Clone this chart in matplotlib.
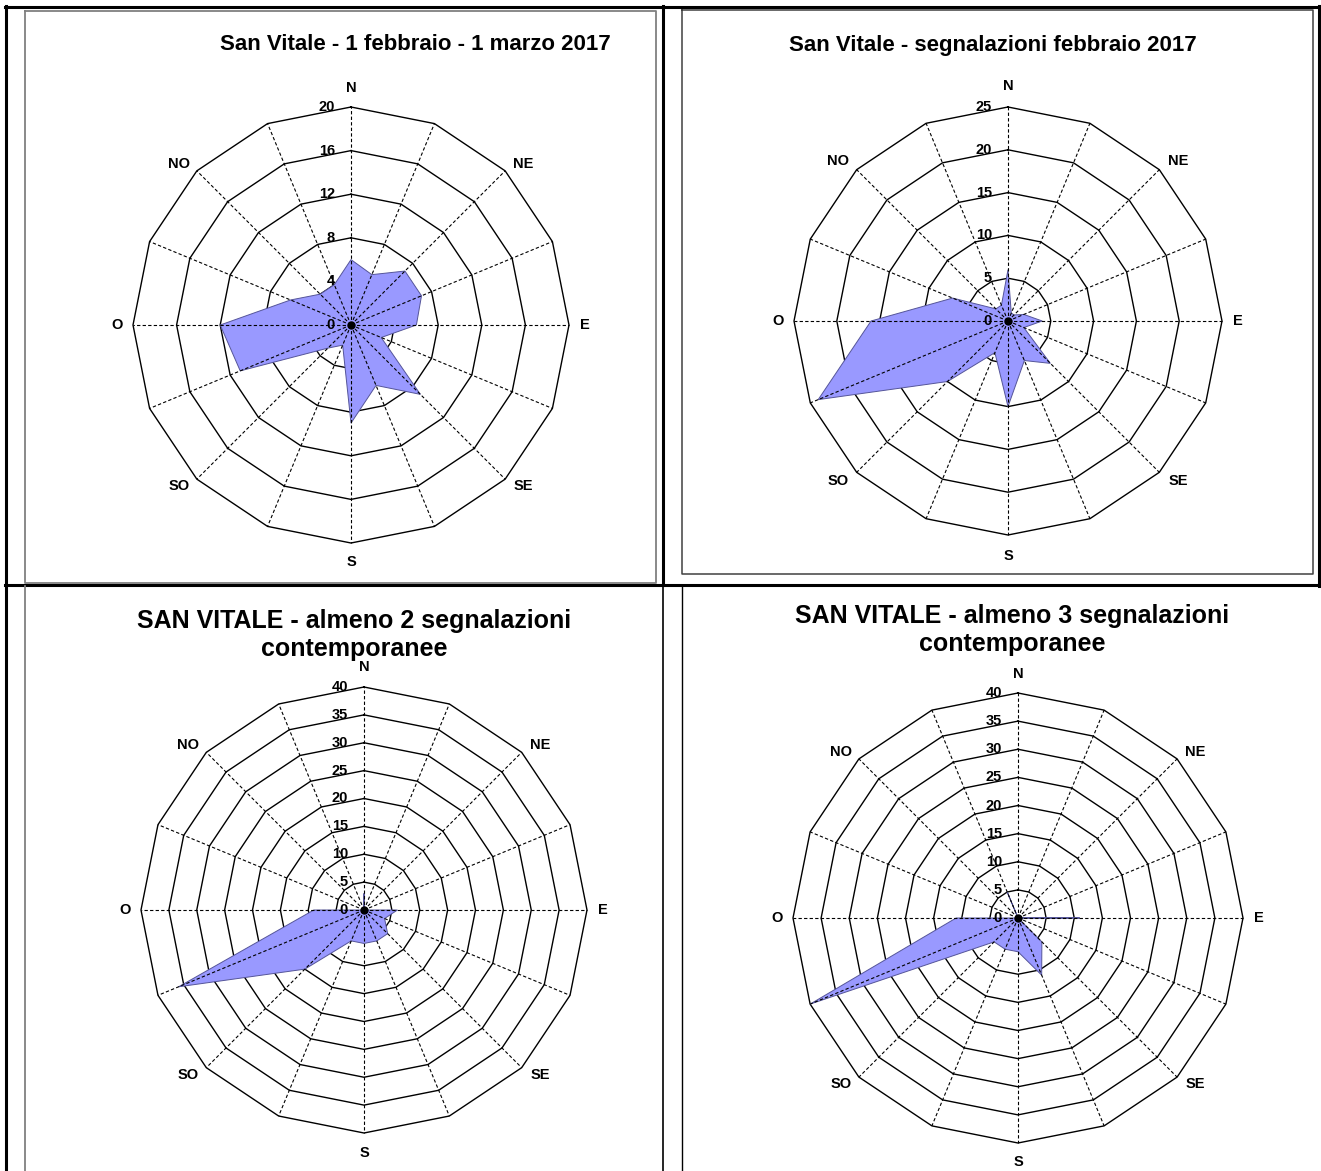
import numpy as np
import matplotlib
matplotlib.use("Agg")
import matplotlib.pyplot as plt

plt.rcParams['font.family'] = ['Liberation Sans', 'DejaVu Sans']

W, H = 1321, 1171

# 16 wind directions (clockwise from North)
directions = ['N', 'NNE', 'NE', 'ENE', 'E', 'ESE', 'SE', 'SSE',
              'S', 'SSO', 'SO', 'OSO', 'O', 'ONO', 'NO', 'NNO']
shown_labels = ['N', 'NE', 'E', 'SE', 'S', 'SO', 'O', 'NO']

# Chart values (counts per direction)
feb_mar_2017 = [6, 5, 7, 7, 6, 3, 9, 6, 9, 2, 3, 11, 12, 6, 4, 4]
segn_feb_2017 = [6, 1, 1, 2, 4, 2, 7, 5, 10, 4, 10, 24, 16, 7, 2, 2]
almeno_2 = [3, 0, 0, 0, 6, 4, 6, 6, 6, 6, 15, 36, 9, 0, 0, 0]
almeno_3 = [0, 0, 0, 0, 11, 0, 6, 11, 6, 6, 6, 40, 11, 0, 0, 5]

ticks_1 = [0, 4, 8, 12, 16, 20]
ticks_2 = [0, 5, 10, 15, 20, 25]
ticks_3 = [0, 5, 10, 15, 20, 25, 30, 35, 40]
ticks_4 = [0, 5, 10, 15, 20, 25, 30, 35, 40]

titles = ['San Vitale - 1 febbraio - 1 marzo 2017',
          'San Vitale - segnalazioni febbraio 2017',
          'SAN VITALE - almeno 2 segnalazioni\ncontemporanee',
          'SAN VITALE - almeno 3 segnalazioni\ncontemporanee']

fig = plt.figure(figsize=(W / 100, H / 100), dpi=100)

# ---- table frame overlay (pixel coordinates) ----
bg = fig.add_axes([0, 0, 1, 1])
bg.set_xlim(0, W)
bg.set_ylim(H, 0)
bg.axis('off')
thick = 2.2
bg.plot([5, 1320], [7, 7], color='black', lw=thick)
bg.plot([6, 6], [6, H], color='black', lw=thick)
bg.plot([1319, 1319], [6, 586], color='black', lw=thick)
bg.plot([5, 1320], [585, 585], color='black', lw=thick)
bg.plot([663, 663], [6, 585], color='black', lw=thick)
bg.plot([663, 663], [585, H], color='black', lw=1.2)
# inner chart frames
bg.plot([25, 656, 656, 25, 25], [11, 11, 583, 583, 11], color='#808080', lw=1.3)
bg.plot([682, 1313, 1313, 682, 682], [10, 10, 574, 574, 10], color='#404040', lw=1.1)
bg.plot([25, 25], [586, H], color='#808080', lw=1.3)
bg.plot([682, 682], [586, H], color='black', lw=1.0)

# ---- radar charts ----
# lab = (N/S distance, E/O distance, diagonal dx, diagonal dy) in pixels
charts = [
    dict(vals=feb_mar_2017, ticks=ticks_1, c=(351, 325), R=218, title=titles[0],
         tpos=(415, 45), tsize=16, lab=(237, 234, 172, 161)),
    dict(vals=segn_feb_2017, ticks=ticks_2, c=(1008, 321), R=214, title=titles[1],
         tpos=(993, 46), tsize=16, lab=(235, 230, 170, 160)),
    dict(vals=almeno_2, ticks=ticks_3, c=(364, 910), R=223, title=titles[2],
         tpos=(354, 635), tsize=18, lab=(243, 239, 176, 165)),
    dict(vals=almeno_3, ticks=ticks_4, c=(1018, 918), R=225, title=titles[3],
         tpos=(1012, 630), tsize=18, lab=(244, 241, 177, 166)),
]

n = len(directions)
theta = np.deg2rad(np.arange(n) * 360.0 / n)
theta_c = np.append(theta, theta[0])

for ch in charts:
    cx, cy = ch['c']
    R = ch['R']
    ax = fig.add_axes([(cx - R) / W, (H - (cy + R)) / H, 2 * R / W, 2 * R / H],
                      projection='polar')
    ax.set_theta_zero_location('N')
    ax.set_theta_direction(-1)
    rmax = ch['ticks'][-1]
    ax.set_ylim(0, rmax)
    ax.grid(False)
    ax.set_xticks([])
    ax.set_yticks([])
    ax.spines['polar'].set_visible(False)
    ax.patch.set_alpha(0)

    # polygonal rings
    for r in ch['ticks'][1:]:
        ax.plot(theta_c, [r] * (n + 1), color='black', lw=1.0, zorder=1,
                clip_on=False)
    # data polygon
    vals = list(ch['vals'])
    ax.fill(theta_c, vals + [vals[0]], facecolor='#9999ff',
            edgecolor='#555599', lw=0.7, zorder=2, clip_on=False)
    # dashed spokes
    for t in theta:
        ax.plot([t, t], [0, rmax], color='black', lw=0.8,
                linestyle=(0, (3, 2)), zorder=3, clip_on=False)
    ax.plot([0], [0], 'o', color='black', ms=5, zorder=4, clip_on=False)

    # value labels along the North spoke
    for r in ch['ticks']:
        ax.annotate(str(r), xy=(0, r), xytext=(-11.5, 0), textcoords='offset points',
                    ha='right', va='center', fontsize=10.5, fontweight='bold',
                    zorder=5, annotation_clip=False)

    # direction labels (pixel offsets from the centre)
    ns, eo, ddx, ddy = ch['lab']
    offs = {'N': (0, ns), 'NE': (ddx, ddy), 'E': (eo, 0), 'SE': (ddx, -ddy),
            'S': (0, -ns), 'SO': (-ddx, -ddy), 'O': (-eo, 0), 'NO': (-ddx, ddy)}
    for d in shown_labels:
        dx, dy = offs[d]
        ax.annotate(d, xy=(0, 0), xytext=(dx * 0.72, dy * 0.72),
                    textcoords='offset points', ha='center', va='center',
                    fontsize=10.5, fontweight='bold', annotation_clip=False)

    fig.text(ch['tpos'][0] / W, 1 - ch['tpos'][1] / H, ch['title'],
             ha='center', va='center', fontsize=ch['tsize'], fontweight='bold',
             linespacing=1.18)

fig.savefig('out.png', dpi=100)
